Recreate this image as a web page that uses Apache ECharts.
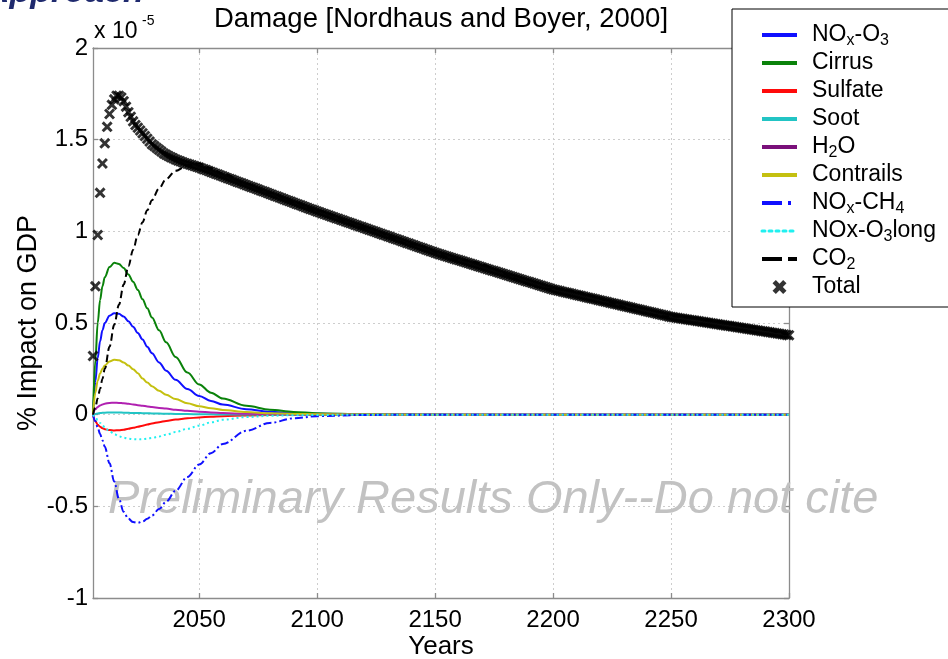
<!DOCTYPE html>
<html><head><meta charset="utf-8">
<script src="https://cdn.jsdelivr.net/npm/echarts@6/dist/echarts.min.js"></script>
<style>html,body{margin:0;padding:0;background:#fff}#c{width:948px;height:659px}</style>
</head><body><div id="c"></div>
<script>
// ---- data (units of 1e-5 % of GDP) ----
const lineYears = [2005,2006,2007,2008,2009,2010,2012,2014,2016,2018,2020,2022,2024,2026,2028,2030,2033,2036,2040,2045,2050,2055,2060,2070,2080,2090,2100,2120,2140,2160,2200,2250,2300];
const noxO3     = [0,0.18,0.31,0.40,0.46,0.50,0.54,0.553,0.55,0.535,0.51,0.48,0.445,0.41,0.37,0.335,0.285,0.24,0.19,0.14,0.102,0.075,0.055,0.03,0.016,0.009,0.005,0.0015,0.0004,0,0,0,0];
const cirrus    = [0,0.30,0.50,0.625,0.70,0.75,0.805,0.828,0.822,0.80,0.765,0.725,0.68,0.63,0.58,0.53,0.46,0.395,0.315,0.23,0.165,0.12,0.088,0.048,0.027,0.015,0.008,0.002,0.0005,0,0,0,0];
const sulfate   = [0,-0.035,-0.055,-0.066,-0.074,-0.079,-0.084,-0.086,-0.085,-0.082,-0.077,-0.072,-0.066,-0.060,-0.054,-0.048,-0.041,-0.034,-0.027,-0.020,-0.015,-0.011,-0.008,-0.004,-0.002,-0.001,-0.0005,-0.0001,0,0,0,0,0];
const soot      = [0,0.004,0.007,0.009,0.010,0.011,0.012,0.012,0.012,0.011,0.010,0.0095,0.009,0.008,0.0075,0.007,0.006,0.005,0.004,0.003,0.0022,0.0016,0.0012,0.0006,0.0003,0.00015,0.0001,0,0,0,0,0,0];
const h2o       = [0,0.03,0.042,0.05,0.056,0.06,0.064,0.065,0.064,0.062,0.059,0.056,0.052,0.049,0.045,0.042,0.037,0.033,0.027,0.021,0.016,0.012,0.009,0.005,0.003,0.0015,0.0008,0.0002,0,0,0,0,0];
const contrails = [0,0.12,0.185,0.225,0.25,0.268,0.29,0.30,0.297,0.285,0.268,0.248,0.226,0.197,0.175,0.155,0.13,0.108,0.085,0.062,0.046,0.035,0.026,0.014,0.008,0.004,0.002,0.0005,0,0,0,0,0];
const noxCH4    = [0,-0.035,-0.07,-0.105,-0.14,-0.175,-0.265,-0.365,-0.46,-0.53,-0.568,-0.586,-0.59,-0.583,-0.568,-0.55,-0.515,-0.475,-0.415,-0.34,-0.272,-0.21,-0.16,-0.088,-0.045,-0.02,-0.008,-0.0015,-0.0003,0,0,0,0];
const noxO3long = [0,-0.015,-0.03,-0.045,-0.058,-0.07,-0.09,-0.106,-0.118,-0.126,-0.131,-0.134,-0.135,-0.134,-0.131,-0.127,-0.119,-0.109,-0.095,-0.077,-0.06,-0.042,-0.028,-0.013,-0.006,-0.003,-0.0015,-0.0004,0,0,0,0,0];
const co2       = [0,0.04,0.09,0.14,0.195,0.25,0.37,0.49,0.60,0.71,0.81,0.90,0.98,1.05,1.115,1.17,1.235,1.285,1.33,1.36,1.37,1.345,1.315,1.26,1.21,1.16,1.112,1.02,0.93,0.845,0.685,0.535,0.435];
const totalStartYear = 2005;
const total = [
0.32,0.70,0.98,1.21,1.37,1.48,1.57,1.64,1.69,1.72,
1.74,1.74,1.73,1.71,1.68,1.65,1.625,1.60,1.58,1.565,
1.55,1.535,1.52,1.505,1.49,1.475,1.465,1.455,1.445,1.435,
1.425,1.418,1.411,1.404,1.398,1.392,1.387,1.382,1.377,1.372,
1.368,1.364,1.36,1.356,1.352,
1.348,1.343,1.338,1.334,1.329,1.324,1.319,1.314,1.310,1.305,1.300,
1.295,1.290,1.286,1.281,1.276,1.271,1.266,1.262,1.257,1.252,
1.247,1.242,1.238,1.233,1.228,1.223,1.218,1.214,1.209,1.204,
1.199,1.194,1.190,1.185,1.180,1.175,1.170,1.166,1.161,1.156,
1.151,1.146,1.142,1.137,1.132,1.127,1.122,1.118,1.113,1.108,
1.104,1.099,1.095,1.090,1.086,1.081,1.077,1.072,1.068,1.063,
1.059,1.054,1.050,1.045,1.041,1.036,1.032,1.027,1.023,1.018,
1.014,1.009,1.005,1.000,0.996,0.991,0.987,0.982,0.978,0.973,
0.969,0.964,0.960,0.955,0.951,0.946,0.942,0.937,0.933,0.928,
0.924,0.919,0.915,0.910,0.906,0.901,0.897,0.892,0.888,0.883,
0.879,0.875,0.871,0.867,0.863,0.859,0.855,0.851,0.847,0.843,
0.839,0.835,0.831,0.827,0.823,0.819,0.815,0.811,0.807,0.803,
0.799,0.795,0.791,0.787,0.783,0.779,0.775,0.771,0.767,0.763,
0.759,0.755,0.751,0.747,0.743,0.739,0.735,0.731,0.727,0.723,
0.719,0.715,0.711,0.707,0.703,0.699,0.695,0.691,0.687,0.683,
0.680,0.677,0.674,0.671,0.668,0.665,0.662,0.659,0.656,0.653,
0.650,0.647,0.644,0.641,0.638,0.635,0.632,0.629,0.626,0.623,
0.620,0.617,0.614,0.611,0.608,0.605,0.602,0.599,0.596,0.593,
0.590,0.587,0.584,0.581,0.578,0.575,0.572,0.569,0.566,0.563,
0.560,0.557,0.554,0.551,0.548,0.545,0.542,0.539,0.536,0.533,
0.531,0.529,0.527,0.525,0.523,0.521,0.519,0.517,0.515,0.513,
0.511,0.509,0.507,0.505,0.503,0.501,0.499,0.497,0.495,0.493,
0.491,0.489,0.487,0.485,0.483,0.481,0.479,0.477,0.475,0.473,
0.471,0.469,0.467,0.465,0.463,0.461,0.459,0.457,0.455,0.453,
0.451,0.449,0.447,0.445,0.443,0.441,0.439,0.437,0.435,0.433];
const xTicks = [2050,2100,2150,2200,2250,2300];
const xMin = 2005, xMax = 2300, yMin = -1, yMax = 2, yStep = 0.5;
const titleText = 'Damage [Nordhaus and Boyer, 2000]';
const legendLabels = {
  'NOx-O3':'NO{s|x}-O{s|3}','Cirrus':'Cirrus','Sulfate':'Sulfate','Soot':'Soot','H2O':'H{s|2}O',
  'Contrails':'Contrails','NOx-CH4':'NO{s|x}-CH{s|4}','NOx-O3long':'NOx-O{s|3}long','CO2':'CO{s|2}','Total':'Total'
};

// ---- styling ----
const FF = '"Liberation Sans", Arial, sans-serif';
const AX = '#8c8c8c';
const XSYM = 'path://M0,1.9L1.9,0L5,3.1L8.1,0L10,1.9L6.9,5L10,8.1L8.1,10L5,6.9L1.9,10L0,8.1L3.1,5Z';
const XSYM_BOLD = 'path://M0,2.4L2.4,0L5,2.6L7.6,0L10,2.4L7.4,5L10,7.6L7.6,10L5,7.4L2.4,10L0,7.6L2.6,5Z';

function lineSeries(name, values, color, type, width) {
  return {
    name, type: 'line', data: lineYears.map((y, i) => [y, values[i]]),
    showSymbol: false, symbol: 'none', smooth: 0.35, smoothMonotone: 'x',
    lineStyle: { color, width, type, cap: 'butt' }, itemStyle: { color },
    z: 2, animation: false, emphasis: { disabled: true }
  };
}

const series = [
  lineSeries('NOx-O3', noxO3, '#1010ff', 'solid', 2),
  lineSeries('Cirrus', cirrus, '#0a820a', 'solid', 2),
  lineSeries('Sulfate', sulfate, '#ff0a0a', 'solid', 2),
  lineSeries('Soot', soot, '#22c4c4', 'solid', 2),
  lineSeries('H2O', h2o, '#b020b0', 'solid', 2),
  lineSeries('Contrails', contrails, '#c4c010', 'solid', 2),
  lineSeries('NOx-CH4', noxCH4, '#1010ff', [8, 3, 2, 3], 2),
  lineSeries('NOx-O3long', noxO3long, '#20f0f0', [2, 3], 2),
  lineSeries('CO2', co2, '#000000', [7, 4], 2),
  {
    name: 'Total', type: 'scatter', data: total.map((v, i) => [totalStartYear + i, v]),
    symbol: XSYM, symbolSize: 11, itemStyle: { color: '#000' }, z: 5, animation: false,
    emphasis: { disabled: true }
  }
];

const hideSym = { opacity: 0 };
const legendData = [
  { name: 'NOx-O3', itemStyle: hideSym, lineStyle: { width: 4 } },
  { name: 'Cirrus', itemStyle: hideSym, lineStyle: { width: 4 } },
  { name: 'Sulfate', itemStyle: hideSym, lineStyle: { width: 4 } },
  { name: 'Soot', itemStyle: hideSym, lineStyle: { width: 4 } },
  { name: 'H2O', itemStyle: hideSym, lineStyle: { width: 4, color: '#7a107a' } },
  { name: 'Contrails', itemStyle: hideSym, lineStyle: { width: 4 } },
  { name: 'NOx-CH4', itemStyle: hideSym, lineStyle: { width: 4, type: [20, 6, 3, 6] } },
  { name: 'NOx-O3long', itemStyle: hideSym, lineStyle: { width: 3, type: [3, 4], cap: 'round' } },
  { name: 'CO2', itemStyle: hideSym, lineStyle: { width: 4, type: [20, 6] } },
  { name: 'Total', icon: XSYM_BOLD }
];

const chart = echarts.init(document.getElementById('c'), null, { renderer: 'canvas' });
chart.setOption({
  animation: false,
  backgroundColor: '#fff',
  grid: { left: 93, right: 159, top: 48, bottom: 61, containLabel: false, outerBoundsMode: 'none' },
  xAxis: [{
    type: 'value', min: xMin, max: xMax, position: 'bottom',
    name: 'Years', nameLocation: 'middle', nameGap: 36, nameMoveOverlap: false,
    nameTextStyle: { fontSize: 26, color: '#000', fontFamily: FF },
    axisLine: { show: true, onZero: false, lineStyle: { color: AX, width: 1.3 } },
    axisTick: { show: true, inside: true, length: 5, customValues: xTicks, lineStyle: { color: AX, width: 1.3 } },
    axisLabel: { show: true, customValues: xTicks, fontSize: 24, color: '#000', fontFamily: FF, margin: 10, formatter: v => String(v) },
    splitLine: { show: true, lineStyle: { color: '#cdcdcd', width: 1, type: [2, 3] } }
  }, {
    type: 'value', min: xMin, max: xMax, position: 'top',
    axisLine: { show: true, onZero: false, lineStyle: { color: AX, width: 1.3 } },
    axisTick: { show: true, inside: true, length: 5, customValues: xTicks, lineStyle: { color: AX, width: 1.3 } },
    axisLabel: { show: false }, splitLine: { show: false }
  }],
  yAxis: [{
    type: 'value', min: yMin, max: yMax, interval: yStep, position: 'left',
    name: '% Impact on GDP', nameLocation: 'middle', nameGap: 51, nameMoveOverlap: false,
    nameTextStyle: { fontSize: 27, color: '#000', fontFamily: FF },
    axisLine: { show: true, onZero: false, lineStyle: { color: AX, width: 1.3 } },
    axisTick: { show: true, inside: true, length: 5, lineStyle: { color: AX, width: 1.3 } },
    axisLabel: { fontSize: 24, color: '#000', fontFamily: FF, margin: 5, formatter: v => String(v) },
    splitLine: { show: true, lineStyle: { color: '#cdcdcd', width: 1, type: [2, 3] } }
  }, {
    type: 'value', min: yMin, max: yMax, interval: yStep, position: 'right',
    axisLine: { show: true, onZero: false, lineStyle: { color: AX, width: 1.3 } },
    axisTick: { show: true, inside: true, length: 5, lineStyle: { color: AX, width: 1.3 } },
    axisLabel: { show: false }, splitLine: { show: false }
  }],
  legend: {
    orient: 'vertical', left: 732, top: 9, padding: [12, 50, 6, 28], itemGap: 0,
    itemWidth: 35, itemHeight: 14, selectedMode: false,
    borderColor: '#000', borderWidth: 1, backgroundColor: '#fff', borderRadius: 0,
    textStyle: {
      fontSize: 23, fontFamily: FF, color: '#000', lineHeight: 28, padding: [0, 0, 0, 10],
      rich: { s: { fontSize: 16, fontFamily: FF, lineHeight: 10, verticalAlign: 'bottom' } }
    },
    formatter: name => legendLabels[name],
    data: legendData,
    z: 10
  },
  graphic: [
    { type: 'text', x: 441, y: 19, z: 10, style: { text: titleText, align: 'center', verticalAlign: 'middle', font: '27.5px ' + FF, fill: '#000' } },
    { type: 'text', x: 94, y: 32, z: 10, style: { text: 'x 10', align: 'left', verticalAlign: 'middle', font: '23px ' + FF, fill: '#000' } },
    { type: 'text', x: 142, y: 21, z: 10, style: { text: '-5', align: 'left', verticalAlign: 'middle', font: '14px ' + FF, fill: '#000' } },
    { type: 'text', x: 108, y: 500, z: 1, style: { text: 'Preliminary Results Only--Do not cite', align: 'left', verticalAlign: 'middle', font: 'italic 47px ' + FF, fill: '#c2c2c2' } },
    { type: 'text', x: -15, y: 9.5, z: 10, style: { text: 'Approach', align: 'left', verticalAlign: 'bottom', font: 'italic bold 34px ' + FF, fill: '#1f2a6e' } }
  ],
  series
});
</script></body></html>
